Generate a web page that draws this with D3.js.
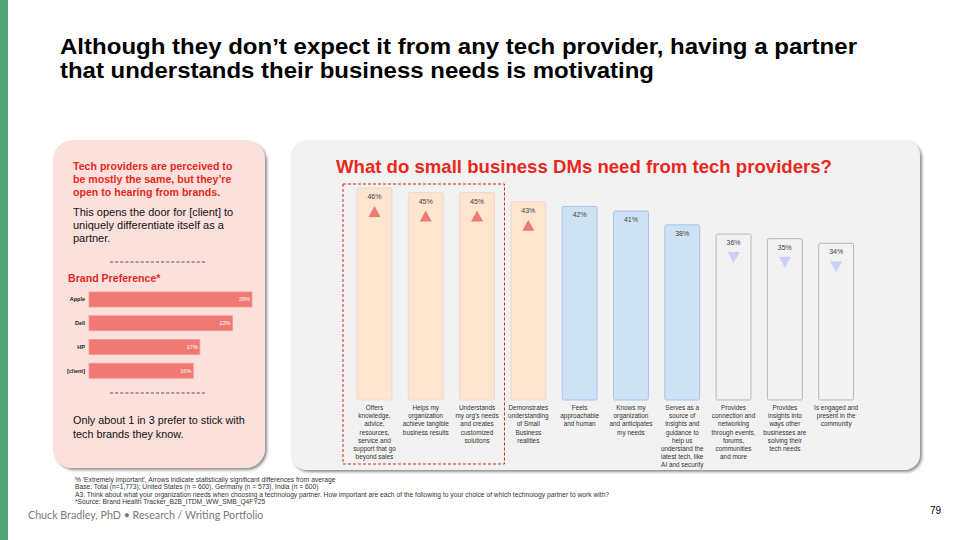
<!DOCTYPE html>
<html>
<head>
<meta charset="utf-8">
<script src="https://cdn.jsdelivr.net/npm/d3@7"></script>
<style>
  html, body { margin: 0; padding: 0; background: #fff; }
  svg { display: block; font-family: "Liberation Sans", Arial, sans-serif; }
</style>
</head>
<body>
<div id="chart"></div>
<script>
// slide data
const titleLines = ["Although they don\u2019t expect it from any tech provider, having a partner",
                    "that understands their business needs is motivating"];

const needLabels = [
  ["Offers", "knowledge,", "advice,", "resources,", "service and", "support that go", "beyond sales"],
  ["Helps my", "organization", "achieve tangible", "business results"],
  ["Understands", "my org's needs", "and creates", "customized", "solutions"],
  ["Demonstrates", "understanding", "of Small", "Business", "realities"],
  ["Feels", "approachable", "and human"],
  ["Knows my", "organization", "and anticipates", "my needs"],
  ["Serves as a", "source of", "insights and", "guidance to", "help us", "understand the", "latest tech, like", "AI and security"],
  ["Provides", "connection and", "networking", "through events,", "forums,", "communities", "and more"],
  ["Provides", "insights into", "ways other", "businesses are", "solving their", "tech needs"],
  ["Is engaged and", "present in the", "community"]
];
const needValues = [46, 45, 45, 43, 42, 41, 38, 36, 35, 34];
const needTier = ["top", "top", "top", "top", "mid", "mid", "mid", "low", "low", "low"];
const needArrow = ["up", "up", "up", "up", null, null, null, "down", "down", "down"];
const highlighted = [0, 1, 2];

const brands = ["Apple", "Dell", "HP", "[client]"];
const brandValues = [25, 22, 17, 16];

const footnotes = [
  "% 'Extremely important', Arrows indicate statistically significant differences from average",
  "Base: Total  (n=1,773); United States (n = 600), Germany (n = 573), India (n = 600)",
  "A3. Think about what your organization needs when choosing a technology partner. How important are each of the following to your choice of which technology partner to work with?",
  "*Source: Brand Health Tracker_B2B_ITDM_WW_SMB_Q4FY25"
];

const W = 960, H = 540;
const svg = d3.select("#chart").append("svg")
  .attr("width", W).attr("height", H);

const defs = svg.append("defs");
const sh = defs.append("filter").attr("id", "shadow")
  .attr("x", "-5%").attr("y", "-5%").attr("width", "115%").attr("height", "115%");
sh.append("feDropShadow")
  .attr("dx", 2).attr("dy", 2).attr("stdDeviation", 1.5)
  .attr("flood-color", "#000").attr("flood-opacity", 0.45);

// green edge
svg.append("rect").attr("x", 0).attr("y", 0).attr("width", 8).attr("height", H)
  .attr("fill", "#4ea57a");

// title (slightly stretched, as on the slide)
const titleLen = [797, 594];
svg.selectAll("text.title").data(titleLines).join("text")
  .attr("class", "title")
  .attr("x", 60).attr("y", (d, i) => 54 + i * 24)
  .attr("textLength", (d, i) => titleLen[i]).attr("lengthAdjust", "spacingAndGlyphs")
  .style("font-size", "22.5px").style("font-weight", "bold").attr("fill", "#000")
  .text(d => d);

// panels
svg.append("rect")
  .attr("x", 53).attr("y", 140).attr("width", 212).attr("height", 328)
  .attr("rx", 20).attr("fill", "#fce0dc").attr("filter", "url(#shadow)");
svg.append("rect")
  .attr("x", 291).attr("y", 140).attr("width", 629).attr("height", 330)
  .attr("rx", 16).attr("fill", "#f2f2f2").attr("filter", "url(#shadow)");

// ---- left panel text
function lines(g, x, y, arr, lh, size, weight, fill) {
  g.append("text").attr("x", x).attr("y", y)
    .style("font-size", size + "px").style("font-weight", weight).attr("fill", fill)
    .selectAll("tspan").data(arr).join("tspan")
      .attr("x", x).attr("dy", (d, i) => i ? lh : 0).text(d => d);
}
lines(svg, 73, 170, ["Tech providers are perceived to", "be mostly the same, but they\u2019re", "open to hearing from brands."],
  13, 10.6, "bold", "#e8281e");
lines(svg, 73, 216, ["This opens the door for [client] to", "uniquely differentiate itself as a", "partner."],
  13, 11, "normal", "#111");
lines(svg, 68, 282, ["Brand Preference*"], 0, 10.6, "bold", "#e8281e");
lines(svg, 73, 424, ["Only about 1 in 3 prefer to stick with", "tech brands they know."],
  14, 10.8, "normal", "#111");

// dashed separators
[262, 393].forEach(yy => {
  svg.append("line").attr("x1", 110).attr("x2", 207).attr("y1", yy).attr("y2", yy)
    .attr("stroke", "#333").attr("stroke-width", 0.8).attr("stroke-dasharray", "3.2,1.9");
});

// brand preference bars
const bx = d3.scaleLinear().domain([0, 25]).range([89, 252]);
const by = d3.scaleBand().domain(brands).range([287.7, 382.5])
  .paddingInner(0.367).paddingOuter(0.18);

const bg = svg.append("g");
bg.selectAll("rect").data(brands).join("rect")
  .attr("x", bx(0)).attr("y", d => by(d))
  .attr("width", (d, i) => bx(brandValues[i]) - bx(0))
  .attr("height", by.bandwidth())
  .attr("fill", "#f07a72").attr("stroke", "#f59b94").attr("stroke-width", 0.8);
bg.selectAll("text.val").data(brands).join("text")
  .attr("class", "val")
  .attr("x", (d, i) => bx(brandValues[i]) - 2)
  .attr("y", d => by(d) + by.bandwidth() / 2 + 2)
  .attr("text-anchor", "end").style("font-size", "5.5px").attr("fill", "#fff")
  .text((d, i) => brandValues[i] + "%");
bg.selectAll("text.cat").data(brands).join("text")
  .attr("class", "cat")
  .attr("x", 85)
  .attr("y", d => by(d) + by.bandwidth() / 2 + 2)
  .attr("text-anchor", "end").style("font-size", "5.5px").style("font-weight", "bold")
  .attr("fill", "#222")
  .text(d => d);

// ---- right chart
svg.append("text")
  .attr("x", 336).attr("y", 173)
  .style("font-size", "18.6px").style("font-weight", "bold").attr("fill", "#e8281e")
  .text("What do small business DMs need from tech providers?");

const x = d3.scaleBand().domain(d3.range(needValues.length))
  .range([348.8, 861.8]).paddingInner(0.32).paddingOuter(0.16);
const y = d3.scaleLinear().domain([0, 46]).range([400, 188]);

const fills = { top: "#fde5cf", mid: "#cfe2f3", low: "#f2f2f2" };
const strokes = { top: "#f6d6d2", mid: "#a4c2f4", low: "#b7b7b7" };

const bars = svg.append("g").selectAll("g").data(needValues).join("g")
  .attr("transform", (d, i) => `translate(${x(i)},0)`);

bars.append("rect")
  .attr("x", 0).attr("y", d => y(d))
  .attr("width", x.bandwidth()).attr("height", d => y(0) - y(d))
  .attr("rx", 1.5)
  .attr("fill", (d, i) => fills[needTier[i]])
  .attr("stroke", (d, i) => strokes[needTier[i]]).attr("stroke-width", 1);

bars.append("text")
  .attr("x", x.bandwidth() / 2).attr("y", d => y(d) + 11)
  .attr("text-anchor", "middle").style("font-size", "7px").attr("fill", "#444")
  .text(d => d + "%");

const tw = 12, th = 11;
bars.filter((d, i) => needArrow[i] === "up").append("path")
  .attr("d", d => {
    const cx = x.bandwidth() / 2, t = y(d) + 18;
    return `M${cx},${t}L${cx + tw / 2},${t + th}L${cx - tw / 2},${t + th}Z`;
  })
  .attr("fill", "#f07a72");
bars.filter((d, i) => needArrow[i] === "down").append("path")
  .attr("d", d => {
    const cx = x.bandwidth() / 2, t = y(d) + 18;
    return `M${cx - tw / 2},${t}L${cx + tw / 2},${t}L${cx},${t + th}Z`;
  })
  .attr("fill", "#c9cff5");

bars.append("text")
  .attr("y", 410)
  .attr("text-anchor", "middle").style("font-size", "6.4px").attr("fill", "#333")
  .selectAll("tspan").data((d, i) => needLabels[i]).join("tspan")
    .attr("x", x.bandwidth() / 2).attr("dy", (d, i) => i ? 8.2 : 0)
    .text(d => d);

// highlight box around first three
const h0 = highlighted[0], h1 = highlighted[highlighted.length - 1];
svg.append("rect")
  .attr("x", x(h0) - 14).attr("y", 184)
  .attr("width", x(h1) + x.bandwidth() + 10 - (x(h0) - 14)).attr("height", 280)
  .attr("fill", "none").attr("stroke", "#d9261c").attr("stroke-width", 1)
  .attr("stroke-dasharray", "3,2");

// footnotes
svg.append("text").attr("x", 75).attr("y", 481.5)
  .style("font-size", "6.7px").attr("fill", "#333")
  .selectAll("tspan").data(footnotes).join("tspan")
    .attr("x", 75).attr("dy", (d, i) => i ? 7.6 : 0).text(d => d);

// footer
svg.append("text").attr("x", 28).attr("y", 519)
  .style("font-family", "Lato, 'Open Sans', sans-serif").style("font-size", "10.7px")
  .attr("fill", "#7a7a7a")
  .text("Chuck Bradley, PhD \u2022 Research / Writing Portfolio");
svg.append("text").attr("x", 930).attr("y", 514)
  .style("font-size", "10px").attr("fill", "#000").text("79");
</script>
</body>
</html>
